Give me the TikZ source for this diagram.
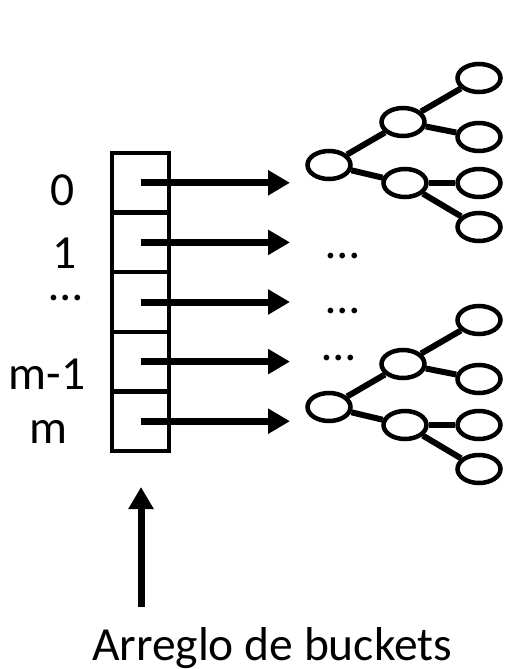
\documentclass[tikz,border=0pt]{standalone}
\usepackage{fontspec}
\setmainfont{Carlito}
\usetikzlibrary{positioning, arrows.meta, shapes.geometric}

\tikzset{
  cell/.style={draw, line width=4.5pt, minimum width=57pt, minimum height=59.6pt, inner sep=0pt, outer sep=0pt},
  ptr/.style={line width=7pt, -{Triangle[length=22pt,width=24pt]}},
  tnode/.style={draw, ellipse, line width=4.5pt, minimum width=43pt, minimum height=28pt, inner sep=0pt},
  tedge/.style={line width=6pt},
  lbl/.style={anchor=base, inner sep=0pt, font=\fontsize{47.5}{57}\selectfont}
}

\begin{document}
\begin{tikzpicture}[x=1pt,y=-1pt]
\useasboundingbox (0,0) rectangle (506,669);

% array of buckets
\node[cell] (c0) at (140.5,182.8) {};
\node[cell, below=0pt of c0] (c1) {};
\node[cell, below=0pt of c1] (c2) {};
\node[cell, below=0pt of c2] (c3) {};
\node[cell, below=0pt of c3] (c4) {};

% pointers
\foreach \i in {0,...,4} {
  \coordinate (e\i) at ([xshift=149.5pt]c\i.center);
  \draw[ptr] (c\i.center) -- (e\i);
}

% indices
\node[lbl] (i0) at (63,205) {0};
\node[lbl] (i1) at (65,268) {1};
\node[lbl] (i2) at (66,300) {…};
\node[lbl] (i3) at (47,389) {m-1};
\node[lbl] (i4) at (48,443) {m};

% empty buckets
\node[lbl] (d1) at (343,258) {…};
\node[lbl] (d2) at (343,313) {…};
\node[lbl] (d3) at (339,360) {…};

% trees
\foreach \t/\dy in {a/0,b/242} {
  \node[tnode] (\t r) at (329,165+\dy) {};
  \node[tnode] (\t u) at (403,122+\dy) {};
  \node[tnode] (\t l) at (405,183+\dy) {};
  \node[tnode] (\t 1) at (479,78+\dy) {};
  \node[tnode] (\t 2) at (479,137+\dy) {};
  \node[tnode] (\t 3) at (479,183+\dy) {};
  \node[tnode] (\t 4) at (479,227+\dy) {};
  \draw[tedge] (\t r) -- (\t u);
  \draw[tedge] (\t r) -- (\t l);
  \draw[tedge] (\t u) -- (\t 1);
  \draw[tedge] (\t u) -- (\t 2);
  \draw[tedge] (\t l) -- (\t 3);
  \draw[tedge] (\t l) -- (\t 4);
}

% caption
\node[lbl] (cap) at (272,660) {Arreglo de buckets};
\coordinate (up0) at (141,607);
\coordinate (up1) at (141,487);
\draw[ptr] (up0) -- (up1);
\end{tikzpicture}
\end{document}
